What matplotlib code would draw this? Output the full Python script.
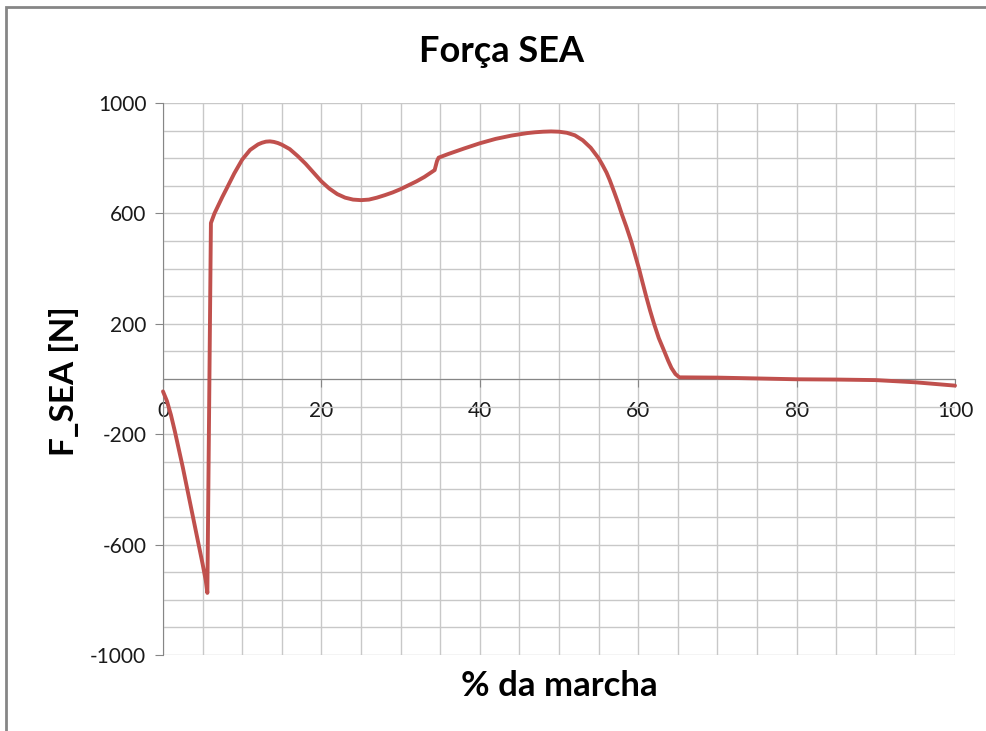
#!/usr/bin/env python3
"""Força SEA ao longo do ciclo de marcha."""

import matplotlib

matplotlib.use("Agg")

import matplotlib.pyplot as plt
import numpy as np
from matplotlib.patches import Rectangle

# % da marcha e força no SEA [N]
marcha = [0, 0.5, 1.0, 1.5, 2.0, 2.5, 3.0, 3.5, 4.0, 4.5, 5.0, 5.4, 5.6,
          6.05, 6.5, 7, 7.5, 8, 9, 10, 11, 12, 12.5, 13, 13.5, 14, 14.5, 15,
          16, 17, 18, 19, 20, 21, 22, 23, 24, 25, 26, 27, 28, 29, 30, 31,
          32, 33, 34.3, 34.6, 34.8, 36, 38, 40, 42, 44, 46, 47, 48, 49, 50,
          51, 52, 53, 54, 55, 55.5, 56, 56.4, 57, 57.5, 57.9, 58.5, 59.1,
          59.6, 60.1, 60.5, 61.0, 61.5, 62.0, 62.6, 63.3, 63.8, 64.2, 64.7,
          65.2, 70, 75, 80, 85, 90, 95, 100]
forca = [-45, -80, -130, -190, -255, -320, -390, -460, -530, -600, -670,
         -730, -775, 565, 600, 630, 660, 688, 745, 795, 830, 850, 856, 860,
         861, 859, 855, 849, 833, 808, 780, 748, 716, 690, 670, 657, 650,
         648, 650, 657, 666, 676, 688, 702, 716, 732, 757, 790, 802, 815,
         835, 854, 870, 882, 891, 894, 896, 897, 896, 892, 883, 865, 838,
         800, 775, 748, 721, 675, 635, 600, 552, 500, 450, 400, 355, 300,
         248, 200, 148, 100, 65, 40, 18, 6, 5, 2, -1, -2, -4, -12, -24]

x_ticks = [0, 20, 40, 60, 80, 100]
y_ticks = [-1000, -600, -200, 200, 600, 1000]

plt.rcParams["font.family"] = ["Lato", "DejaVu Sans"]

fig = plt.figure(figsize=(9.87, 7.31), dpi=100)
ax = fig.add_axes([163 / 987, 1 - 655 / 731, (955 - 163) / 987, (655 - 103) / 731])

for side in ("top", "right"):
    ax.spines[side].set_visible(False)
ax.spines["bottom"].set_position(("data", 0))
ax.spines["bottom"].set_color("#868686")
ax.spines["left"].set_color("#868686")
ax.spines["bottom"].set_zorder(1)

ax.set_xlim(0, 100)
ax.set_ylim(-1000, 1000)

ax.set_xticks(np.arange(0, 101, 5), minor=True)
ax.set_yticks(np.arange(-1000, 1001, 100), minor=True)
ax.set_xticks(x_ticks)
ax.set_yticks(y_ticks)
ax.set_xticklabels([str(v) for v in x_ticks])
ax.set_yticklabels([str(v) for v in y_ticks])
ax.tick_params(which="minor", length=0)
ax.tick_params(which="major", length=6, color="#868686", labelcolor="#1a1a1a",
               labelsize=15)
ax.tick_params(axis="x", pad=10)
ax.tick_params(axis="y", pad=6)

ax.grid(True, which="both", color="#C8C8C8", linewidth=1.0)
ax.set_axisbelow(True)

ax.plot(marcha, forca, color="#C0504D", linewidth=2.8, solid_joinstyle="round",
        solid_capstyle="round", clip_on=False, zorder=3)

fig.text(0.508, 0.930, "Força SEA", ha="center", va="center",
         fontsize=26, fontweight="bold")
fig.text(559 / 987, 1 - 686 / 731, "% da marcha", ha="center", va="center",
         fontsize=25, fontweight="bold")
fig.text(64 / 987, 1 - 381 / 731, "F_SEA [N]", ha="center", va="center",
         rotation=90, fontsize=24, fontweight="bold")

# moldura cinza da área do gráfico
fig.patches.append(Rectangle((6 / 987, -0.05), 1.1, 1 - 7 / 731 + 0.05,
                             transform=fig.transFigure, fill=False,
                             edgecolor="#868686", linewidth=2.0))

fig.savefig("out.png", dpi=100)
